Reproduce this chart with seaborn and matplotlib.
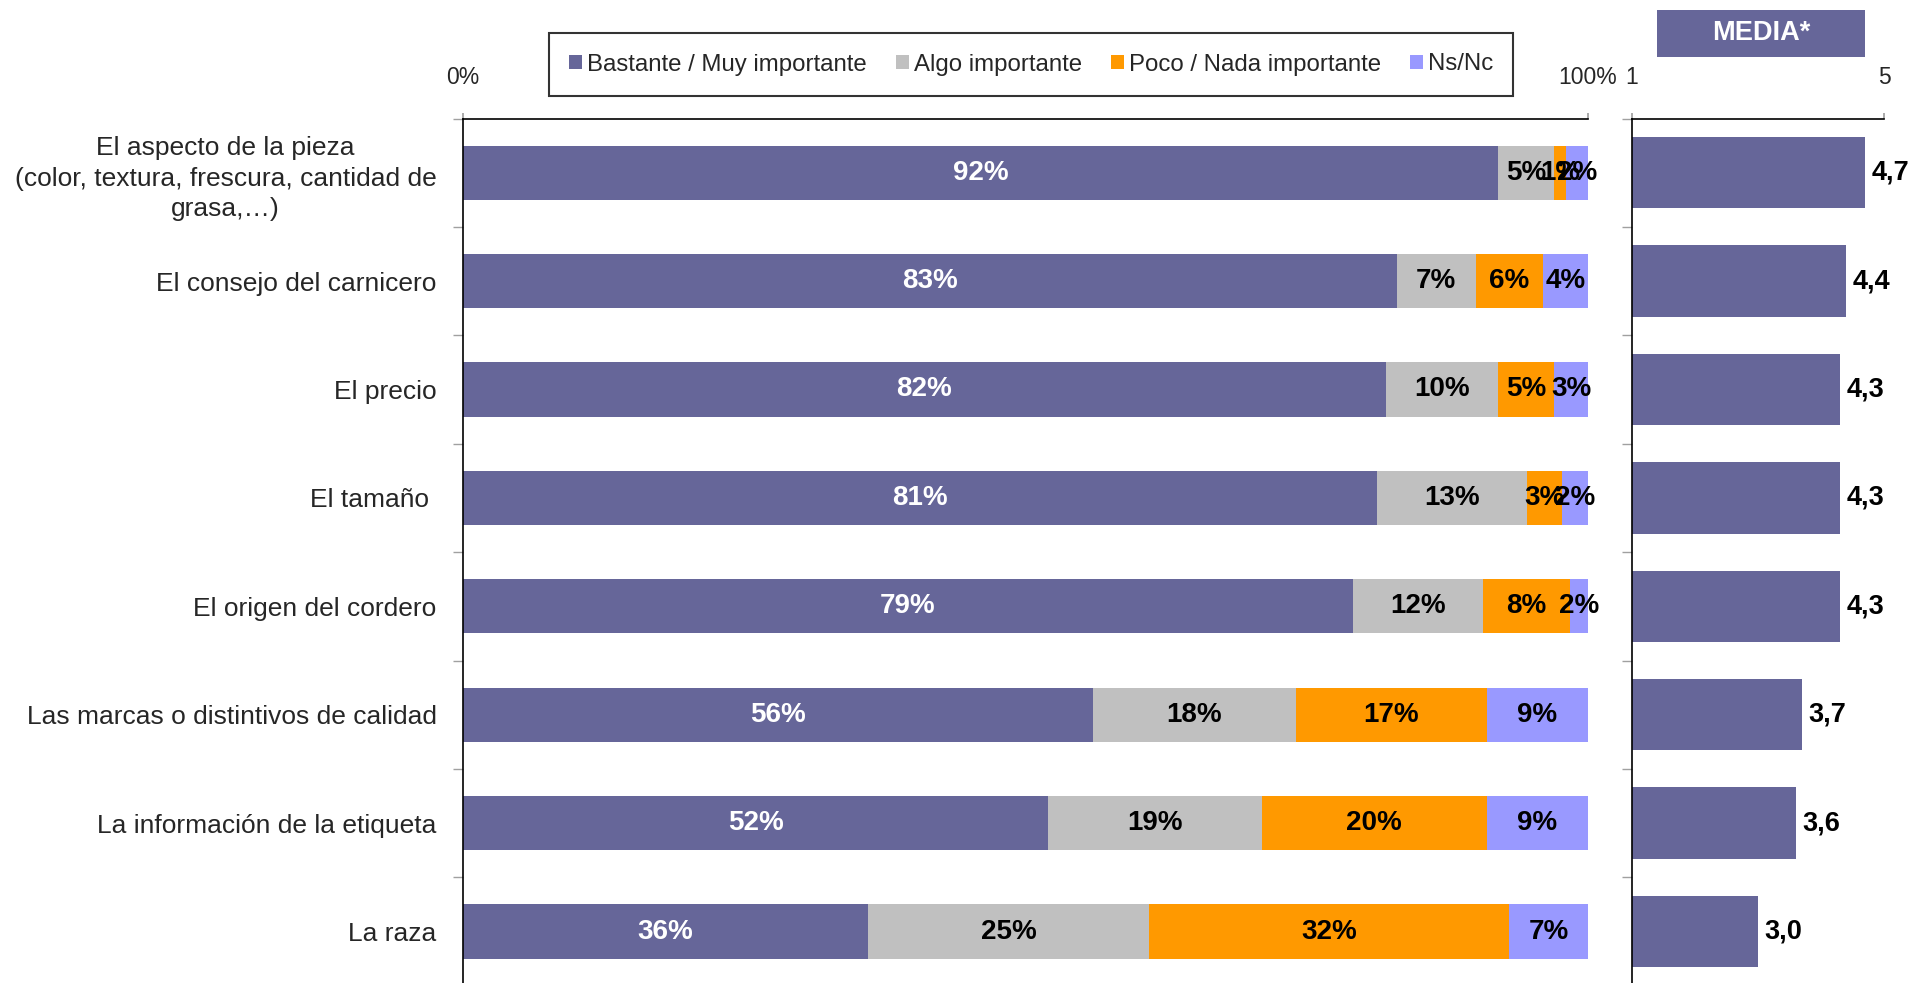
import matplotlib
matplotlib.use("Agg")
import matplotlib.pyplot as plt
from matplotlib.patches import Patch, Rectangle
import numpy as np
import seaborn as sns

# Factors rated when buying lamb
categories = [
    "El aspecto de la pieza\n(color, textura, frescura, cantidad de\ngrasa,\u2026)",
    "El consejo del carnicero",
    "El precio",
    "El tamaño ",
    "El origen del cordero",
    "Las marcas o distintivos de calidad",
    "La información de la etiqueta",
    "La raza",
]

series_names = ["Bastante / Muy importante", "Algo importante",
                "Poco / Nada importante", "Ns/Nc"]

bastante = [92, 83, 82, 81.2, 79.1, 56, 52, 36]
algo = [5, 7, 10, 13.4, 11.6, 18, 19, 25]
poco = [1, 6, 5, 3.1, 7.7, 17, 20, 32]
nsnc = [2, 4, 3, 2.3, 1.6, 9, 9, 7]

media = [4.7, 4.4, 4.3, 4.3, 4.3, 3.7, 3.6, 3.0]

colors = ["#666699", "#C0C0C0", "#FF9900", "#9999FF"]
label_colors = ["white", "black", "black", "black"]

sns.set_theme(style="white")
plt.rcParams["font.family"] = ["Liberation Sans", "DejaVu Sans"]

W, H = 1910, 983
fig = plt.figure(figsize=(W / 100, H / 100), dpi=100)

top_px, bottom_px = 118.5, 985.7
ax = fig.add_axes([463 / W, 1 - bottom_px / H, (1588 - 463) / W, (bottom_px - top_px) / H])
ax2 = fig.add_axes([1632 / W, 1 - bottom_px / H, (1884 - 1632) / W, (bottom_px - top_px) / H])

# Stacked bars: draw cumulative totals from the widest down so each segment shows
series = [np.array(bastante), np.array(algo), np.array(poco), np.array(nsnc)]
cums = np.cumsum(series, axis=0)
for k in range(3, -1, -1):
    sns.barplot(x=cums[k], y=categories, orient="h", color=colors[k],
                saturation=1, width=0.5, errorbar=None, ax=ax, linewidth=0)

for k in range(4):
    starts = cums[k] - series[k]
    for i, v in enumerate(series[k]):
        ax.text(starts[i] + v / 2, i, f"{v:.0f}%", ha="center", va="center",
                fontsize=20, fontweight="bold", color=label_colors[k])

ax.set_xlim(0, 100)
ax.set_ylim(len(categories) - 0.5, -0.5)
ax.set_xlabel("")
ax.set_ylabel("")
ax.xaxis.tick_top()
ax.set_xticks([0, 100])
ax.set_xticklabels(["0%", "100%"])
ax.tick_params(axis="x", which="major", top=True, bottom=False, length=4,
               color="#A0A0A0", labelsize=16.5, pad=17, direction="out")
ax.set_yticks(range(len(categories)))
ax.set_yticklabels(categories)
for lab in ax.get_yticklabels():
    lab.set_multialignment("center")
    lab.set_linespacing(1.35)
ax.tick_params(axis="y", which="major", left=False, labelsize=19, pad=13)
ax.set_yticks(np.arange(-0.5, len(categories), 1.0), minor=True)
ax.tick_params(axis="y", which="minor", left=True, length=7, color="#A0A0A0",
               direction="out")
for side in ["right", "bottom"]:
    ax.spines[side].set_visible(False)
for side in ["left", "top"]:
    ax.spines[side].set_color("black")
    ax.spines[side].set_linewidth(1.2)

# Mean score panel
sns.barplot(x=media, y=categories, orient="h", color=colors[0], saturation=1,
            width=0.66, errorbar=None, ax=ax2, linewidth=0)
for i, m in enumerate(media):
    ax2.text(m + 0.1, i, f"{m:.1f}".replace(".", ","), ha="left", va="center",
             fontsize=19.5, fontweight="bold", color="black", clip_on=False)
ax2.set_xlim(1, 5)
ax2.set_ylim(len(categories) - 0.5, -0.5)
ax2.set_xlabel("")
ax2.set_ylabel("")
ax2.xaxis.tick_top()
ax2.set_xticks([1, 5])
ax2.set_xticklabels(["1", "5"])
ax2.tick_params(axis="x", which="major", top=True, bottom=False, length=4,
                color="#A0A0A0", labelsize=16.5, pad=17, direction="out")
ax2.set_yticks([])
ax2.set_yticks(np.arange(-0.5, len(categories), 1.0), minor=True)
ax2.tick_params(axis="y", which="minor", left=True, length=7, color="#A0A0A0",
                direction="out", labelleft=False)
for side in ["right", "bottom"]:
    ax2.spines[side].set_visible(False)
for side in ["left", "top"]:
    ax2.spines[side].set_color("black")
    ax2.spines[side].set_linewidth(1.2)

# Header box over the mean panel
fig.patches.append(Rectangle((1657 / W, 1 - 57 / H), (1865 - 1657) / W, 47 / H,
                             transform=fig.transFigure, facecolor=colors[0],
                             edgecolor="none"))
fig.text(1761 / W, 1 - 33.5 / H, "MEDIA*", ha="center", va="center",
         fontsize=19.5, fontweight="bold", color="white")

# Legend
handles = [Patch(facecolor=c, edgecolor="none", label=n)
           for c, n in zip(colors, series_names)]
leg = fig.legend(handles=handles, loc="center", bbox_to_anchor=(1031 / W, 1 - 64.5 / H),
                 ncol=4, frameon=True, fontsize=17.3, handlelength=0.55,
                 handleheight=0.55, handletextpad=0.2, columnspacing=1.2,
                 borderpad=0.85, fancybox=False, borderaxespad=0)
leg.get_frame().set_edgecolor("black")
leg.get_frame().set_linewidth(1.5)

fig.savefig("out.png", dpi=100)
